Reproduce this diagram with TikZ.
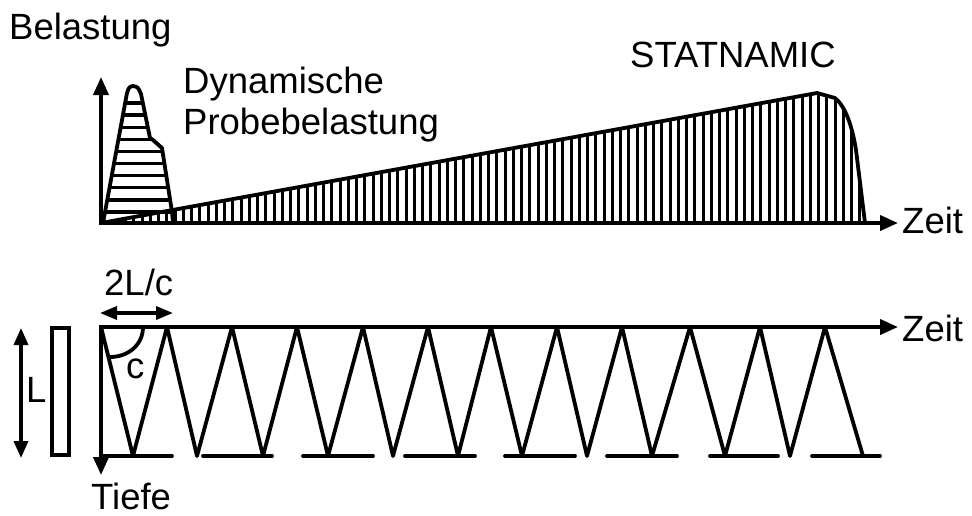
\documentclass[tikz,border=0pt]{standalone}
\usepackage{fontspec}
\setmainfont{Liberation Sans}
\usetikzlibrary{arrows.meta}
\begin{document}
\begin{tikzpicture}[x=1pt,y=-1pt,
  lbl/.style={inner sep=0pt, anchor=base west, font=\fontsize{36.5}{40}\selectfont},
  outline/.style={line width=3.8pt, line join=round},
  hatch/.style={line width=3pt},
  bothtips/.style={{Triangle[length=18pt,width=15pt]}-{Triangle[length=18pt,width=15pt]}}
]
\useasboundingbox (0,0) rectangle (972,515);

% ---------- top diagram ----------
\coordinate (O1) at (101,223);
\coordinate (Y1) at (101,77);
\coordinate (X1) at (898,223);

% STATNAMIC region, vertical hatching
\begin{scope}
  \clip (101,223) -- (817,93) -- (835,98) .. controls (845,106) and (852,125) .. (856,150) -- (865,223) -- cycle;
  \foreach \x in {109,117.25,...,872} \draw[hatch] (\x,80) -- (\x,230);
\end{scope}
\draw[outline] (101,223) -- (817,93) -- (835,98) .. controls (845,106) and (852,125) .. (856,150) -- (865,223);

% dynamic load peak, horizontal hatching
\begin{scope}
  \clip (103,223) -- (127,93) .. controls (129,87) .. (133,86) .. controls (138,87) .. (141,94) -- (150,138) -- (153,140) -- (162,148) -- (172,212) -- (173,223) -- cycle;
  \foreach \y in {103,115.1,...,214} \draw[line width=3.4pt] (95,\y) -- (180,\y);
\end{scope}
\draw[outline] (103,223) -- (127,93) .. controls (129,87) .. (133,86) .. controls (138,87) .. (141,94) -- (150,138) -- (153,140) -- (162,148) -- (172,212) -- (173,223);

% axes
\draw[outline, line join=miter, bothtips] (Y1) -- (O1) -- (X1);

\node[lbl] (belastung) at (9,39) {Belastung};
\node[lbl] (dyn1) at (183,93) {Dynamische};
\node[lbl] (dyn2) at (183,134) {Probebelastung};
\node[lbl] (stat) at (630,67) {STATNAMIC};
\node[lbl] (zeit1) at (902,233) {Zeit};

% ---------- bottom diagram ----------
\coordinate (O2) at (101,327);
\coordinate (Y2) at (101,475);
\coordinate (X2) at (898,327);

% wave path
\draw[outline] (O2) -- (133,456) -- (167,327) -- (197,456) -- (232,327) -- (263,456) -- (297,327) -- (328,456) -- (363,327) -- (393,456) -- (428,327) -- (458,456) -- (491,327) -- (522,456) -- (557,327) -- (587,456) -- (622,327) -- (652,456) -- (690,327) -- (725,456) -- (760,327) -- (790,456) -- (825,327) -- (863,456);

% toe segments
\foreach \a/\b in {101/172,203/272,303/373,405/475,505/575,607/677,710/778,812/880}
  \draw[outline, line cap=round] (\a,456) -- (\b,456);

% axes
\draw[outline, line join=miter, bothtips] (Y2) -- (O2) -- (X2);

% angle arc
\draw[outline] (143,327) .. controls (143,345) and (128,357) .. (110,357);

% 2L/c dimension
\coordinate (d1) at (100,313);
\coordinate (d2) at (173,313);
\draw[line width=3.4pt, {Triangle[length=17pt,width=13pt]}-{Triangle[length=17pt,width=13pt]}] (d1) -- (d2);

% pile and its length
\draw[line width=3.5pt] (52,328) rectangle (69,455);
\coordinate (l1) at (21,328);
\coordinate (l2) at (21,458);
\draw[line width=3.5pt, {Triangle[length=17pt,width=14pt]}-{Triangle[length=17pt,width=14pt]}] (l1) -- (l2);

\node[lbl] (lenL) at (26,402) {L};
\node[lbl] (twoLc) at (104,295) {2L/c};
\node[lbl] (cc) at (126,378) {c};
\node[lbl] (zeit2) at (902,341) {Zeit};
\node[lbl] (tiefe) at (91,509) {Tiefe};
\end{tikzpicture}
\end{document}
